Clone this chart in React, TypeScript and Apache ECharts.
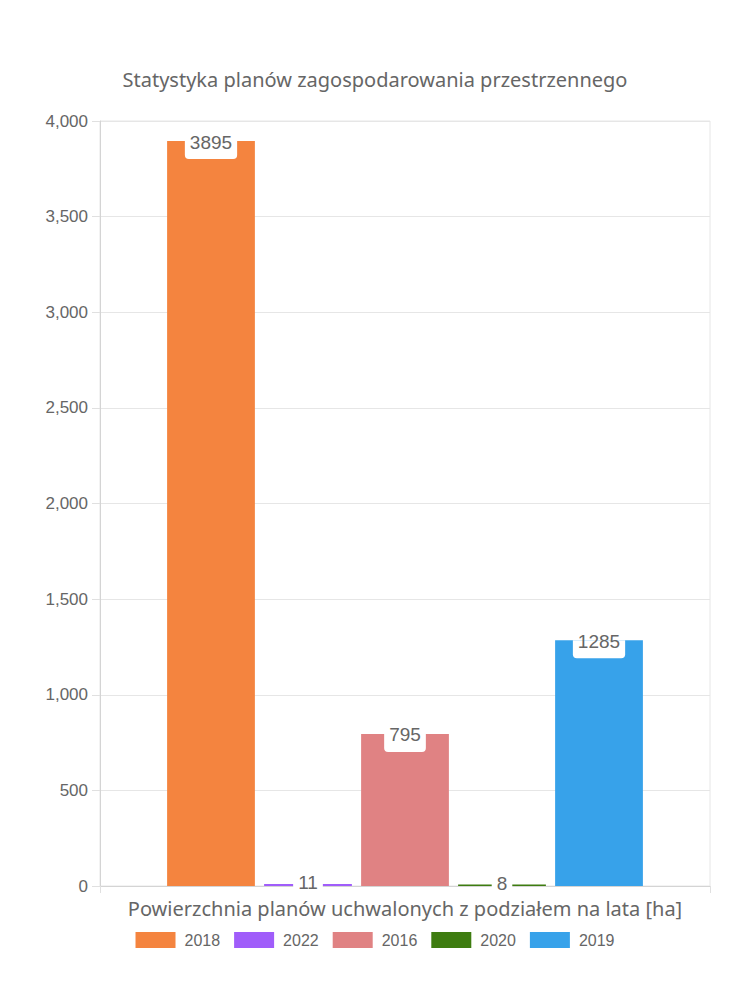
import React, { useEffect, useRef } from "react";
import * as echarts from "echarts";

const titleText = "Statystyka planów zagospodarowania przestrzennego";
const axisName = "Powierzchnia planów uchwalonych z podziałem na lata [ha]";
const categories = [""];
const seriesNames = ["2018", "2022", "2016", "2020", "2019"];
const seriesValues = [3895, 11, 795, 8, 1285];
const seriesColors = ["#F4843F", "#A05DFA", "#E08283", "#3E7C10", "#37A2EA"];
const yMin = 0;
const yMax = 4000;
const yInterval = 500;

const FONT = '"Noto Sans", sans-serif';
const NUM_FONT = '"Liberation Sans", Arial, sans-serif';

export default function App() {
  const ref = useRef<HTMLDivElement>(null);
  useEffect(() => {
    document.body.style.margin = "0";
    if (!ref.current) return;
    const chart = echarts.init(ref.current, undefined, { renderer: "svg" });
    chart.setOption({
      animation: false,
      backgroundColor: "#fff",
      title: {
        text: titleText,
        left: "center",
        top: 64,
        textStyle: { fontFamily: FONT, fontSize: 20, fontWeight: "normal", color: "#666" },
      },
      legend: {
        data: seriesNames,
        top: 927,
        left: "center",
        icon: "rect",
        itemWidth: 40,
        itemHeight: 16,
        itemGap: 14,
        textStyle: { fontFamily: NUM_FONT, fontSize: 16, color: "#666", padding: [0, 0, 0, 4] },
      },
      grid: {
        left: 100,
        right: 40,
        top: 121,
        bottom: 114,
        show: true,
        borderColor: "#e6e6e6",
        borderWidth: 1,
      },
      xAxis: {
        type: "category",
        data: categories,
        name: axisName,
        nameLocation: "middle",
        nameGap: 12,
        nameTextStyle: { fontFamily: FONT, fontSize: 20, color: "#666" },
        axisLine: { show: true, lineStyle: { color: "#d4d4d4" } },
        axisTick: { show: true, length: 7, lineStyle: { color: "#e0e0e0" } },
        axisLabel: { show: false },
      },
      yAxis: {
        type: "value",
        min: yMin,
        max: yMax,
        interval: yInterval,
        axisLine: { show: true, lineStyle: { color: "#d4d4d4" } },
        axisTick: { show: true, length: 8, lineStyle: { color: "#e0e0e0" } },
        axisLabel: {
          margin: 12,
          fontFamily: NUM_FONT,
          fontSize: 17,
          color: "#666",
          formatter: (v: number) => v.toLocaleString("en-US"),
        },
        splitLine: { show: true, lineStyle: { color: "#e6e6e6" } },
      },
      series: seriesNames.map((name, i) => {
        const v = seriesValues[i];
        const small = v < 100;
        return {
          type: "bar",
          name,
          data: [
            small
              ? {
                  value: v,
                  label: { padding: [8, 5, 6, 5], lineHeight: 2, offset: [0, -10], borderRadius: 4 },
                }
              : v,
          ],
          itemStyle: { color: seriesColors[i] },
          barCategoryGap: "22%",
          barGap: "10.5%",
          label: {
            show: true,
            position: "insideTop",
            distance: 0,
            fontFamily: NUM_FONT,
            fontSize: 19,
            color: "#666",
            backgroundColor: "#fff",
            borderRadius: [0, 0, 4, 4],
            lineHeight: 2,
            padding: [0, 5, 16, 5],
          },
        };
      }),
    });
    return () => chart.dispose();
  }, []);
  return <div ref={ref} style={{ width: 750, height: 1000 }} />;
}
